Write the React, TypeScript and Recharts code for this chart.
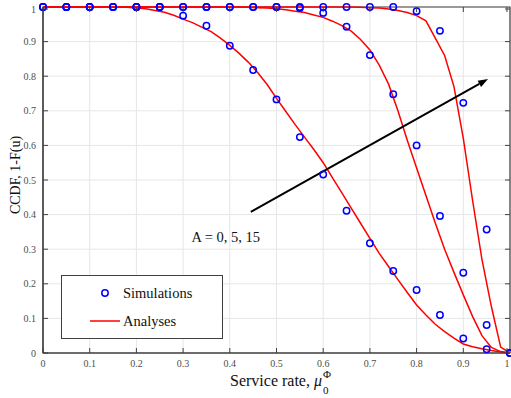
import {
  LineChart,
  Line,
  XAxis,
  YAxis,
  CartesianGrid,
  ReferenceLine,
  ReferenceArea,
  ReferenceDot,
  Legend,
  Label
} from 'recharts';

// simulation samples (step 0.05)
const simX = [0, 0.05, 0.1, 0.15, 0.2, 0.25, 0.3, 0.35, 0.4, 0.45, 0.5, 0.55, 0.6, 0.65, 0.7, 0.75, 0.8, 0.85, 0.9, 0.95, 1];
const simA0 = [1, 1, 1, 1, 1, 1, 0.975, 0.946, 0.888, 0.818, 0.733, 0.624, 0.516, 0.411, 0.317, 0.237, 0.182, 0.11, 0.042, 0.011, 0];
const simA5 = [1, 1, 1, 1, 1, 1, 1, 1, 1, 1, 1, 0.997, 0.983, 0.943, 0.861, 0.748, 0.6, 0.396, 0.232, 0.081, 0];
const simA15 = [1, 1, 1, 1, 1, 1, 1, 1, 1, 1, 1, 1, 1, 1, 1, 1, 0.988, 0.931, 0.723, 0.357, 0];

// analytical curves (step 0.02)
const anaX = [
  0, 0.02, 0.04, 0.06, 0.08, 0.1, 0.12, 0.14, 0.16, 0.18, 0.2, 0.22, 0.24, 0.26, 0.28, 0.3, 0.32,
  0.34, 0.36, 0.38, 0.4, 0.42, 0.44, 0.46, 0.48, 0.5, 0.52, 0.54, 0.56, 0.58, 0.6, 0.62, 0.64,
  0.66, 0.68, 0.7, 0.72, 0.74, 0.76, 0.78, 0.8, 0.82, 0.84, 0.86, 0.88, 0.9, 0.92, 0.94, 0.96, 0.98, 1
];
const anaA0 = [
  1, 1, 1, 1, 1, 1, 1, 1, 1, 0.999, 0.997, 0.995, 0.99, 0.985, 0.976, 0.965, 0.955,
  0.942, 0.929, 0.91, 0.889, 0.866, 0.84, 0.81, 0.776, 0.736, 0.698, 0.66, 0.624, 0.588, 0.55, 0.506, 0.463,
  0.419, 0.375, 0.331, 0.288, 0.25, 0.212, 0.175, 0.139, 0.11, 0.083, 0.062, 0.043, 0.026, 0.018, 0.012, 0.007, 0.003, 0
];
const anaA5 = [
  1, 1, 1, 1, 1, 1, 1, 1, 1, 1, 1, 1, 1, 1, 1, 1, 1,
  1, 1, 1, 1, 1, 0.999, 0.998, 0.997, 0.995, 0.992, 0.988, 0.984, 0.977, 0.97, 0.959, 0.946,
  0.93, 0.906, 0.876, 0.832, 0.777, 0.7, 0.615, 0.535, 0.455, 0.376, 0.3, 0.233, 0.168, 0.105, 0.05, 0.016, 0.004, 0
];
const anaA15 = [
  1, 1, 1, 1, 1, 1, 1, 1, 1, 1, 1, 1, 1, 1, 1, 1, 1,
  1, 1, 1, 1, 1, 1, 1, 1, 1, 1, 1, 1, 1, 1, 1, 1,
  1, 0.999, 0.998, 0.997, 0.994, 0.99, 0.984, 0.975, 0.96, 0.91, 0.86, 0.77, 0.62, 0.44, 0.27, 0.135, 0.017, 0
];

const ticks = [0, 0.1, 0.2, 0.3, 0.4, 0.5, 0.6, 0.7, 0.8, 0.9, 1];
const tickLabels = ['0', '0.1', '0.2', '0.3', '0.4', '0.5', '0.6', '0.7', '0.8', '0.9', '1'];

const zip = (xs: number[], ys: number[]) => xs.map((x, i) => ({ x, y: ys[i] }));

const PLOT_W = 467;
const PLOT_H = 346;
const AXIS = '#404040';
const FONT = 'Liberation Serif, Times New Roman, serif';

const labelOf = (v: number) => tickLabels[ticks.indexOf(v)] ?? String(v);

// MATLAB-like ticks: inward on all four sides
function XTick({ x, y, payload }: any) {
  return (
    <g>
      <line x1={x} y1={y} x2={x} y2={y - 5} stroke={AXIS} />
      <line x1={x} y1={y - PLOT_H} x2={x} y2={y - PLOT_H + 5} stroke={AXIS} />
      <text x={x} y={y + 13.5} textAnchor="middle" fontSize={10} fill="#4d4d4d" fontFamily={FONT}>
        {labelOf(payload.value)}
      </text>
    </g>
  );
}

function YTick({ x, y, payload }: any) {
  return (
    <g>
      <line x1={x} y1={y} x2={x + 5} y2={y} stroke={AXIS} />
      <line x1={x + PLOT_W} y1={y} x2={x + PLOT_W - 5} y2={y} stroke={AXIS} />
      <text x={x - 7} y={y + 3.5} textAnchor="end" fontSize={10} fill="#4d4d4d" fontFamily={FONT}>
        {labelOf(payload.value)}
      </text>
    </g>
  );
}

function Arrow(props: any) {
  const { x1, y1, x2, y2 } = props;
  const ang = Math.atan2(y2 - y1, x2 - x1);
  const len = 10;
  const half = 3.5;
  const bx = x2 - len * Math.cos(ang);
  const by = y2 - len * Math.sin(ang);
  const pts = [
    `${x2},${y2}`,
    `${bx + half * Math.sin(ang)},${by - half * Math.cos(ang)}`,
    `${bx - half * Math.sin(ang)},${by + half * Math.cos(ang)}`
  ].join(' ');
  return (
    <g>
      <line x1={x1} y1={y1} x2={bx} y2={by} stroke="#000" strokeWidth={2} />
      <polygon points={pts} fill="#000" />
    </g>
  );
}

function LegendBox() {
  return (
    <div style={{ width: 162, height: 64, boxSizing: 'border-box', border: `1px solid ${AXIS}`, background: '#fff' }}>
      <svg width={160} height={62} style={{ display: 'block' }}>
        <circle cx={43} cy={17} r={3.2} fill="none" stroke="#0000ff" strokeWidth={1.5} />
        <text x={61} y={22} fontSize={14.5} fontFamily={FONT} fill="#111">Simulations</text>
        <line x1={28} y1={45} x2={58} y2={45} stroke="#ff0000" strokeWidth={1.5} />
        <text x={61} y={50} fontSize={14.5} fontFamily={FONT} fill="#111">Analyses</text>
      </svg>
    </div>
  );
}

const simDot = { r: 3.2, stroke: '#0000ff', strokeWidth: 1.5, fill: 'none' };

export default function App() {
  return (
    <div style={{ position: 'absolute', left: 0, top: 0, width: 511, height: 398, background: '#fff' }}>
      <LineChart width={511} height={398} margin={{ top: 7, right: 1, bottom: 15, left: 13 }}>
        <CartesianGrid stroke="#e6e6e6" />
        <ReferenceArea x1={0} x2={1} y1={0} y2={1} fill="none" stroke={AXIS} strokeWidth={1.2} fillOpacity={0} />
        <XAxis
          dataKey="x"
          type="number"
          domain={[0, 1]}
          ticks={ticks}
          height={30}
          tickSize={0}
          tickMargin={0}
          tickLine={false}
          tick={<XTick />}
          axisLine={{ stroke: AXIS, strokeWidth: 1.2 }}
          allowDuplicatedCategory={false}
        >
          <Label
            content={(p: any) => {
              const vb = p.viewBox || { x: 43, y: 353 };
              return (
                <text x={vb.x + 187} y={vb.y + 33} fontSize={16} fontFamily={FONT} fill="#111">
                  Service rate,{' '}
                  <tspan fontStyle="italic">μ</tspan>
                  <tspan fontSize={11} dx={1} dy={-8}>Φ</tspan>
                  <tspan fontSize={11} dx={-8} dy={16}>0</tspan>
                </text>
              );
            }}
          />
        </XAxis>
        <YAxis
          dataKey="y"
          type="number"
          domain={[0, 1]}
          ticks={ticks}
          width={30}
          tickSize={0}
          tickMargin={0}
          tickLine={false}
          tick={<YTick />}
          axisLine={{ stroke: AXIS, strokeWidth: 1.2 }}
        >
          <Label
            content={(p: any) => {
              const vb = p.viewBox || { x: 13, y: 7, width: 30 };
              const cx = vb.x + (vb.width ?? 30) - 28;
              const cy = vb.y + 168;
              return (
                <text
                  x={cx}
                  y={cy}
                  transform={`rotate(-90 ${cx} ${cy})`}
                  textAnchor="middle"
                  dominantBaseline="central"
                  fontSize={14}
                  fontFamily={FONT}
                  fill="#111"
                >
                  CCDF, 1-F(u)
                </text>
              );
            }}
          />
        </YAxis>

        <Line data={zip(anaX, anaA0)} dataKey="y" type="linear" stroke="#ff0000" strokeWidth={1.5} dot={false} isAnimationActive={false} />
        <Line data={zip(anaX, anaA5)} dataKey="y" type="linear" stroke="#ff0000" strokeWidth={1.5} dot={false} isAnimationActive={false} />
        <Line data={zip(anaX, anaA15)} dataKey="y" type="linear" stroke="#ff0000" strokeWidth={1.5} dot={false} isAnimationActive={false} />

        <Line data={zip(simX, simA0)} dataKey="y" stroke="none" dot={simDot} activeDot={false} isAnimationActive={false} />
        <Line data={zip(simX, simA5)} dataKey="y" stroke="none" dot={simDot} activeDot={false} isAnimationActive={false} />
        <Line data={zip(simX, simA15)} dataKey="y" stroke="none" dot={simDot} activeDot={false} isAnimationActive={false} />

        <ReferenceLine
          segment={[{ x: 0.445, y: 0.408 }, { x: 0.953, y: 0.792 }]}
          stroke="#000"
          shape={Arrow}
        />
        <ReferenceDot
          x={0.318}
          y={0.335}
          r={0}
          fill="none"
          stroke="none"
          label={{
            content: (p: any) => (
              <text
                x={p.viewBox?.x}
                y={p.viewBox?.y}
                dominantBaseline="central"
                fontSize={14.5}
                fontFamily={FONT}
                fill="#111"
              >
                A = 0, 5, 15
              </text>
            )
          }}
        />

        <Legend
          layout="horizontal"
          verticalAlign="middle"
          align="center"
          content={() => <LegendBox />}
          wrapperStyle={{ position: 'absolute', left: 61, top: 275, width: 162, height: 64 }}
        />
      </LineChart>
    </div>
  );
}
